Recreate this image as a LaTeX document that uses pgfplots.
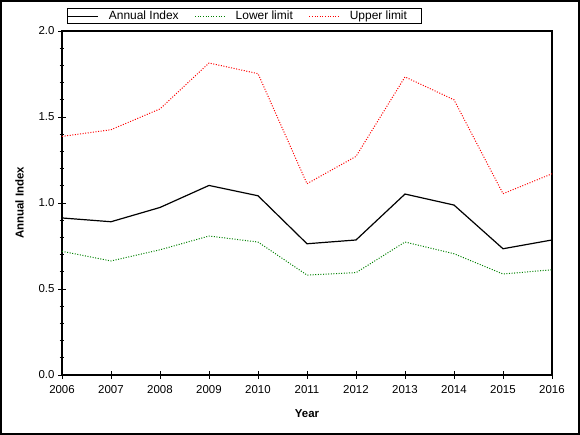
\documentclass[border=0pt]{standalone}
\usepackage{fontspec}
\setmainfont{Liberation Sans}
\usepackage{pgfplots}
\pgfplotsset{compat=1.18}
\definecolor{dgreen}{RGB}{0,128,0}
\begin{document}
\begin{tikzpicture}[x=1bp,y=1bp]
\begin{axis}[
  at={(0,0)}, anchor=south west,
  width=490bp, height=344bp, scale only axis,
  xmin=2006, xmax=2016, ymin=0, ymax=2,
  xtick={2006,...,2016}, minor x tick num=4,
  ytick={0,0.5,1,1.5,2}, minor y tick num=4,
  xtick pos=bottom, ytick pos=left,
  tick align=center,
  major tick length=8bp, minor tick length=5bp,
  tick style={black, line width=0.9bp},
  axis line style={line width=1.2bp},
  xticklabel style={/pgf/number format/1000 sep={}, yshift=-3bp},
  yticklabel style={/pgf/number format/.cd, fixed, fixed zerofill, precision=1},
  /pgf/number format/assume math mode=true,
  ticklabel style={font=\fontsize{11.5}{13}\selectfont},
  xlabel={\textbf{Year}}, ylabel={\textbf{Annual Index}},
  label style={font=\fontsize{11.5}{13}\selectfont},
  xlabel style={yshift=-9bp},
  ylabel style={yshift=8bp},
  legend columns=3,
  legend style={at={(axis description cs:0.0102,1.0203)}, anchor=south west,
    draw=black, line width=0.9bp, inner sep=0.3bp, font=\fontsize{12}{12}\selectfont,
    /tikz/every odd column/.append style={column sep=8bp},
    /tikz/every even column/.append style={column sep=14bp}},
  legend image code/.code={\draw[#1] (0bp,0bp) -- (30bp,0bp);},
]
\addplot[black, line width=1.2bp] coordinates {
(2006,0.913) (2007,0.891) (2008,0.974) (2009,1.102) (2010,1.042) (2011,0.763) (2012,0.785) (2013,1.052) (2014,0.988) (2015,0.734) (2016,0.785)};
\addlegendentry{Annual Index}
\addplot[dgreen, line width=1bp, dash pattern=on 1bp off 1.6bp] coordinates {
(2006,0.719) (2007,0.663) (2008,0.728) (2009,0.808) (2010,0.773) (2011,0.581) (2012,0.595) (2013,0.773) (2014,0.705) (2015,0.587) (2016,0.612)};
\addlegendentry{Lower limit}
\addplot[red, line width=1bp, dash pattern=on 1bp off 1.6bp] coordinates {
(2006,1.387) (2007,1.426) (2008,1.547) (2009,1.814) (2010,1.752) (2011,1.112) (2012,1.271) (2013,1.733) (2014,1.600) (2015,1.054) (2016,1.170)};
\addlegendentry{Upper limit\rule{12bp}{0pt}}
\end{axis}
\draw[line width=2bp] (-61,-59) rectangle (517,374);
\end{tikzpicture}
\end{document}
